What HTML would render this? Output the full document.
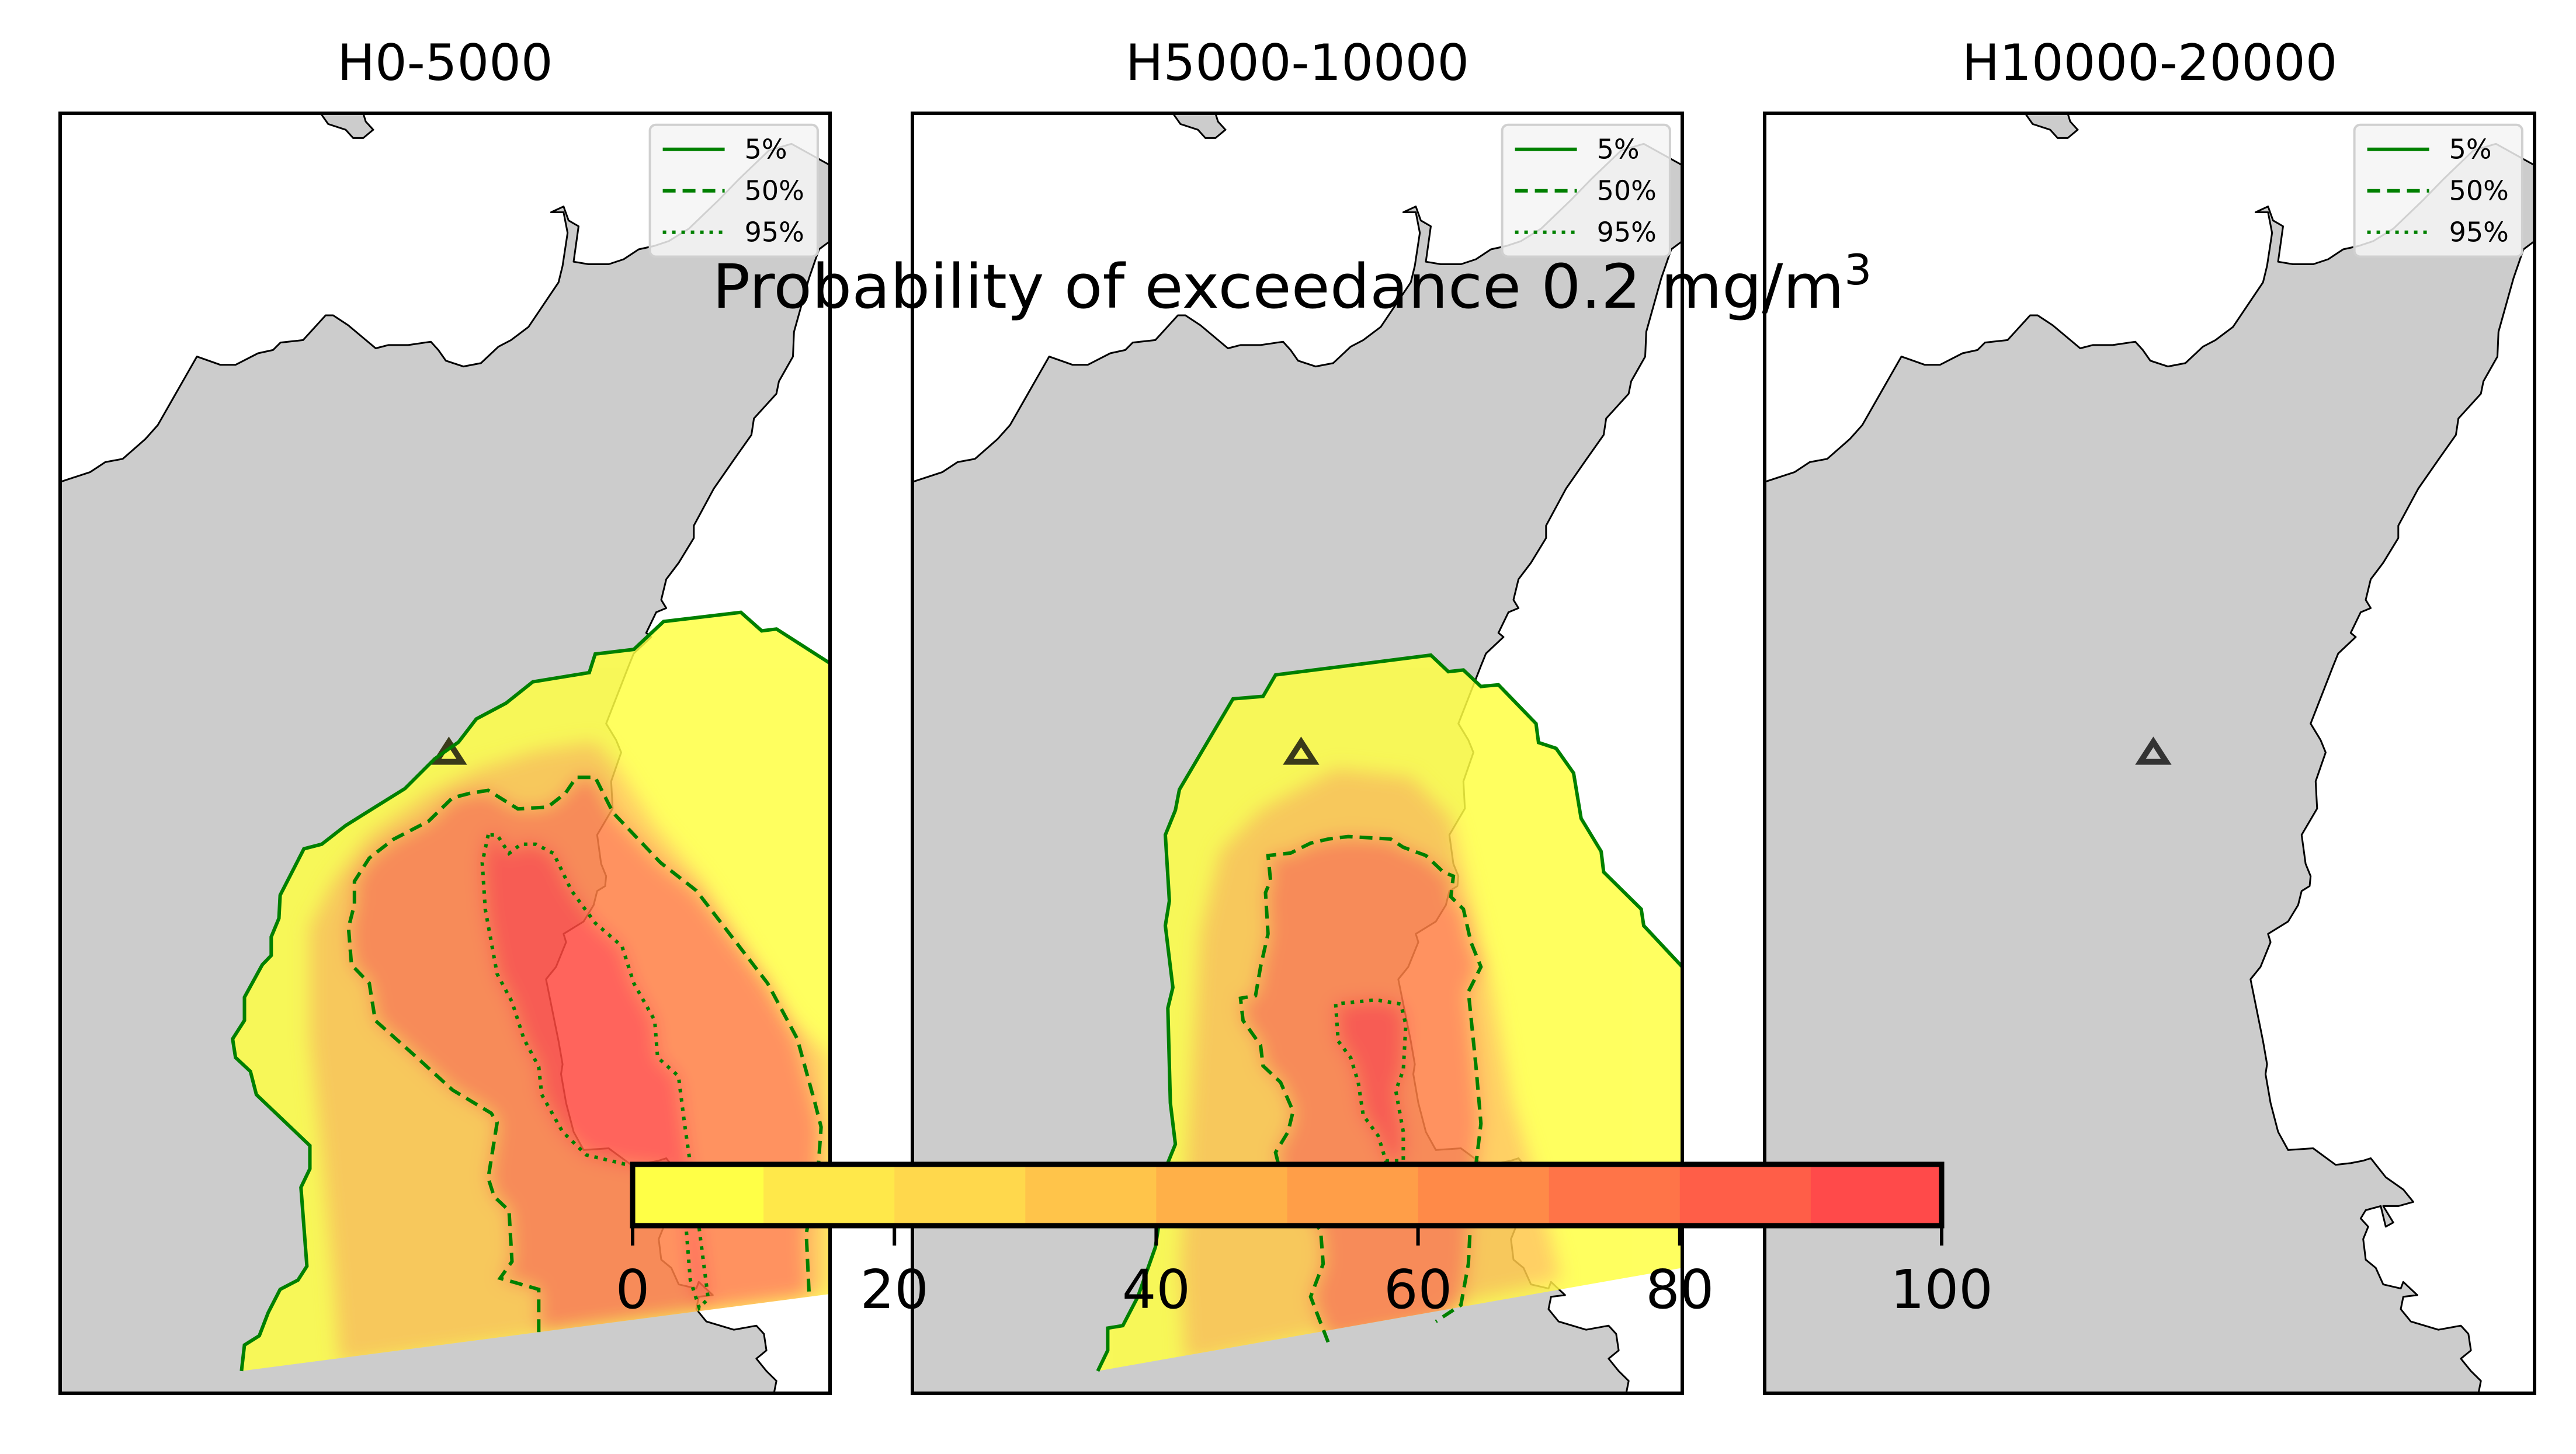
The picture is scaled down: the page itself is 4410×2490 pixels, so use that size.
<!DOCTYPE html>
<html><head><meta charset="utf-8"><style>
html,body{margin:0;padding:0;background:#fff;}
svg{display:block;font-family:"DejaVu Sans","Liberation Sans",sans-serif;}
</style></head><body>
<svg id="fig" width="4410" height="2490" viewBox="0 0 4410 2490" xmlns="http://www.w3.org/2000/svg">
<defs>
<filter id="soft" x="-20%" y="-20%" width="140%" height="140%"><feGaussianBlur stdDeviation="16"/></filter>
</defs>
<rect width="4410" height="2490" fill="#fff"/>
<g id="panels"></g>
<text x="2212" y="527" text-anchor="middle" font-size="104" fill="#000" textLength="1985" lengthAdjust="spacingAndGlyphs">Probability of exceedance 0.2 mg/m<tspan font-size="72" dy="-40">3</tspan></text>
<g id="colorbar"></g>
</svg>
<script>
const NS='http://www.w3.org/2000/svg';
const panelTitles=['H0-5000','H5000-10000','H10000-20000'];
const cbTicks=[0,20,40,60,80,100];
const cbColors=['#ffff46','#ffe84a','#ffd84c','#ffc44a','#ffb048','#ff9e48','#ff8a48','#ff7448','#ff5e48','#ff4a4a'];
const legendLabels=['5%','50%','95%'];
const volcano=[781,780];
const land=[[5,452],[65,440],[95,428],[130,424],[175,400],[200,383],[278,300],[325,310],[355,310],[400,296],[430,292],[445,283],[490,280],[535,250],[550,250],[580,262],[635,290],[660,286],[700,286],[745,282],[760,292],[775,305],[790,308],[810,312],[845,308],[880,288],[905,280],[940,264],[1000,210],[1008,190],[1018,150],[1010,125],[985,125],[1010,118],[1020,135],[1040,142],[1030,185],[1060,188],[1100,188],[1130,182],[1160,170],[1190,166],[1220,160],[1260,145],[1320,110],[1360,85],[1420,50],[1465,42],[1542,68],[1542,160],[1520,170],[1500,205],[1470,270],[1468,300],[1440,330],[1435,345],[1390,375],[1385,395],[1350,425],[1310,460],[1270,505],[1270,520],[1240,550],[1215,570],[1205,595],[1215,605],[1195,610],[1175,635],[1185,640],[1150,660],[1140,675],[1095,745],[1115,765],[1125,780],[1105,815],[1108,848],[1077,880],[1085,915],[1095,930],[1093,942],[1077,948],[1070,965],[1050,985],[1010,1000],[1015,1010],[995,1040],[975,1055],[1000,1130],[1008,1158],[1005,1170],[1015,1205],[1030,1240],[1050,1262],[1100,1260],[1145,1280],[1175,1278],[1200,1275],[1215,1272],[1245,1295],[1280,1310],[1300,1325],[1270,1330],[1240,1330],[1260,1350],[1245,1355],[1235,1330],[1205,1335],[1195,1345],[1210,1355],[1200,1370],[1205,1395],[1225,1405],[1240,1425],[1275,1430],[1280,1422],[1308,1438],[1280,1440],[1275,1455],[1295,1470],[1350,1480],[1395,1475],[1410,1485],[1415,1505],[1395,1515],[1415,1530],[1435,1542],[1430,1557],[5,1557]];
const island=[[525,5],[540,18],[575,25],[590,35],[610,35],[630,25],[615,15],[610,5]];
const p1Outer=[[405,1478],[410,1450],[435,1440],[450,1415],[470,1390],[500,1380],[515,1365],[505,1280],[520,1260],[520,1235],[430,1180],[420,1155],[395,1140],[390,1120],[410,1100],[410,1075],[440,1040],[455,1030],[455,1010],[468,990],[470,965],[510,915],[540,910],[580,890],[630,870],[680,850],[730,818],[770,800],[800,775],[850,758],[895,735],[990,725],[1000,705],[1065,700],[1115,670],[1245,660],[1280,680],[1305,678],[1395,715],[1395,1395]];
const p1Mid=[[570,1470],[560,1380],[540,1240],[520,1120],[520,1000],[560,950],[620,900],[720,855],[800,830],[900,810],[1000,800],[1040,830],[1100,890],[1180,950],[1260,1030],[1330,1100],[1395,1140],[1395,1395]];
const p1Fifty=[[905,1436],[905,1390],[840,1378],[860,1360],[855,1305],[830,1290],[820,1270],[835,1210],[825,1200],[760,1175],[700,1140],[630,1100],[620,1060],[590,1040],[585,1000],[595,975],[595,950],[620,925],[660,905],[720,885],[760,860],[790,855],[820,852],[870,872],[920,870],[950,855],[968,838],[1000,838],[1030,876],[1110,930],[1170,960],[1230,1010],[1290,1060],[1340,1120],[1370,1190],[1380,1215],[1375,1260],[1355,1330],[1360,1398]];
const p1NinetyFive=[[820,900],[810,930],[815,980],[835,1050],[860,1080],[880,1120],[905,1150],[910,1180],[945,1220],[985,1245],[1050,1255],[1120,1260],[1150,1300],[1160,1380],[1175,1410],[1190,1400],[1170,1300],[1150,1210],[1140,1160],[1105,1140],[1100,1100],[1065,1060],[1045,1020],[1000,995],[960,960],[930,920],[900,910],[875,910],[855,920],[835,900]];
const p2Outer=[[375,1530],[395,1505],[395,1478],[425,1475],[455,1440],[490,1380],[500,1340],[510,1285],[530,1255],[520,1205],[515,1090],[525,1065],[510,990],[518,960],[510,880],[530,850],[538,825],[645,715],[705,712],[730,686],[1040,662],[1075,682],[1105,680],[1140,700],[1175,698],[1250,745],[1255,768],[1290,775],[1325,805],[1340,860],[1380,900],[1385,925],[1460,970],[1465,990],[1542,1040],[1542,1405]];
const p2Mid=[[550,1520],[540,1400],[560,1200],[580,1000],[620,900],[700,850],[850,800],[1000,810],[1080,860],[1120,960],[1160,1060],[1200,1200],[1250,1300],[1300,1420]];
const p2Fifty=[[835,1495],[800,1440],[825,1400],[820,1360],[740,1290],[730,1265],[755,1240],[765,1215],[740,1180],[705,1160],[700,1135],[665,1105],[660,1078],[690,1075],[700,1040],[715,1000],[710,950],[720,935],[715,905],[760,902],[800,890],[835,885],[875,882],[960,885],[985,895],[1030,905],[1065,925],[1085,930],[1080,955],[1105,970],[1120,1010],[1140,1040],[1115,1070],[1120,1100],[1130,1160],[1140,1230],[1130,1280],[1120,1340],[1115,1400],[1100,1450],[1050,1470]];
const p2NinetyFive=[[850,1085],[855,1130],[880,1150],[895,1180],[905,1220],[935,1245],[950,1275],[985,1275],[985,1240],[970,1190],[985,1165],[990,1110],[980,1085],[930,1080]];

const PX=[103,1562,3021], PY=194, W=1318, H=2192;
function mk(tag,attrs,parent){const e=document.createElementNS(NS,tag);for(const k in attrs)e.setAttribute(k,attrs[k]);if(parent)parent.appendChild(e);return e;}
function tA(x0){return p=>[x0+(p[0]-5)/1537*W, PY+(p[1]-5)/1552*H];}
function tB(x0){return p=>[x0+(p[0]-100)/1295*W, PY+(p[1]-122)/1380*H];}
function pts(arr,f){return arr.map(p=>f(p).map(v=>v.toFixed(1)).join(',')).join(' ');}

const root=document.getElementById('panels');
const plumes=[
 {f:tB,outer:p1Outer,mid:p1Mid,fifty:p1Fifty,ninety:p1NinetyFive},
 {f:tA,outer:p2Outer,mid:p2Mid,fifty:p2Fifty,ninety:p2NinetyFive},
 null];
for(let i=0;i<3;i++){
 const x0=PX[i];
 const g=mk('g',{},root);
 
 
 const cp=mk('clipPath',{id:'clip'+i},g);mk('rect',{x:x0,y:PY,width:W,height:H},cp);
 const inner=mk('g',{'clip-path':'url(#clip'+i+')'},g);
 mk('rect',{x:x0,y:PY,width:W,height:H,fill:'#fff'},inner);
 const ta=tA(x0);
 const ld=mk('polygon',{points:pts(land,ta),fill:'#cccccc',stroke:'#000','stroke-width':3,'stroke-linejoin':'round'},inner);
 
 
 mk('polygon',{points:pts(island,ta),fill:'#cccccc',stroke:'#000','stroke-width':3},inner);
 const pl=plumes[i];
 if(pl){
  const f=pl.f(x0);
  const pg=mk('g',{opacity:0.85},inner);
  
  
  const ocp=mk('clipPath',{id:'oclip'+i},pg);
  mk('polygon',{points:pts(pl.outer,f)},ocp);
  mk('polygon',{points:pts(pl.outer,f),fill:'#ffff44'},pg);
  const bg=mk('g',{'clip-path':'url(#oclip'+i+')'},pg);
  const bf=mk('g',{filter:'url(#soft)'},bg);
  mk('polygon',{points:pts(pl.mid,f),fill:'#ffc84a'},bf);
  mk('polygon',{points:pts(pl.fifty,f),fill:'#ff8044'},bf);
  mk('polygon',{points:pts(pl.ninety,f),fill:'#ff4a40'},bf);
 }
 const v=ta(volcano);
 const tri=mk('polygon',{points:`${v[0]-22},${v[1]+16} ${v[0]+22},${v[1]+16} ${v[0]},${v[1]-18}`,fill:'none',stroke:pl?'#3a3a1a':'#333','stroke-width':10,'stroke-linejoin':'miter'},inner);
 
 
 if(pl){
  const f=pl.f(x0);
  const c5=mk('polyline',{points:pts(pl.outer.slice(0,pl.outer.length-1),f),fill:'none',stroke:'#008000','stroke-width':6},inner);
  
  
  const c50=mk('polyline',{points:pts(pl.fifty,f),fill:'none',stroke:'#008000','stroke-width':6,'stroke-dasharray':'22 12'},inner);
  
  
  const c95=mk('polygon',{points:pts(pl.ninety,f),fill:'none',stroke:'#008000','stroke-width':6,'stroke-dasharray':'6 10'},inner);
  
  
 }
 const lg=mk('g',{},g);
 
 
 const lx=x0+0.766*W, ly=PY+0.009*H;
 mk('rect',{x:lx,y:ly,width:0.218*W,height:0.103*H,rx:10,fill:'#f4f4f4','fill-opacity':0.85,stroke:'#d0d0d0','stroke-width':4},lg);
 const dashes=['none','22 12','6 10'];
 for(let k=0;k<3;k++){
  const yy=ly+42+k*71;
  const ln=mk('line',{x1:lx+22,x2:lx+128,y1:yy,y2:yy,stroke:'#008000','stroke-width':6,'stroke-dasharray':dashes[k]},lg);
  
  
  const tx=mk('text',{x:lx+162,y:yy+16,'font-size':46,fill:'#000'},lg);
  tx.textContent=legendLabels[k];
  
  
 }
 mk('rect',{x:x0,y:PY,width:W,height:H,fill:'none',stroke:'#000','stroke-width':6},g);
 const tt=mk('text',{x:x0+W/2,y:137,'font-size':86,'text-anchor':'middle',fill:'#000'},g);
 tt.textContent=panelTitles[i];
 
 
}
const cb=document.getElementById('colorbar');
const CX0=1083,CX1=3324,CY0=1994,CY1=2099;
const cx=v=>CX0+(v-cbTicks[0])/(cbTicks[cbTicks.length-1]-cbTicks[0])*(CX1-CX0);
cbColors.forEach((c,k)=>{
 const r=mk('rect',{x:cx(k*10),y:CY0,width:cx((k+1)*10)-cx(k*10)+0.5,height:CY1-CY0,fill:c},cb);
 
 
});
mk('rect',{x:CX0,y:CY0,width:CX1-CX0,height:CY1-CY0,fill:'none',stroke:'#000','stroke-width':9},cb);
cbTicks.forEach(t=>{
 const x=cx(t);
 const tk=mk('line',{x1:x,x2:x,y1:CY1,y2:2133,stroke:'#000','stroke-width':6},cb);
 
 
 const lb=mk('text',{x:x,y:2240,'font-size':92,'text-anchor':'middle',fill:'#000'},cb);
 lb.textContent=String(t);
 
 
});
</script>
</body></html>
